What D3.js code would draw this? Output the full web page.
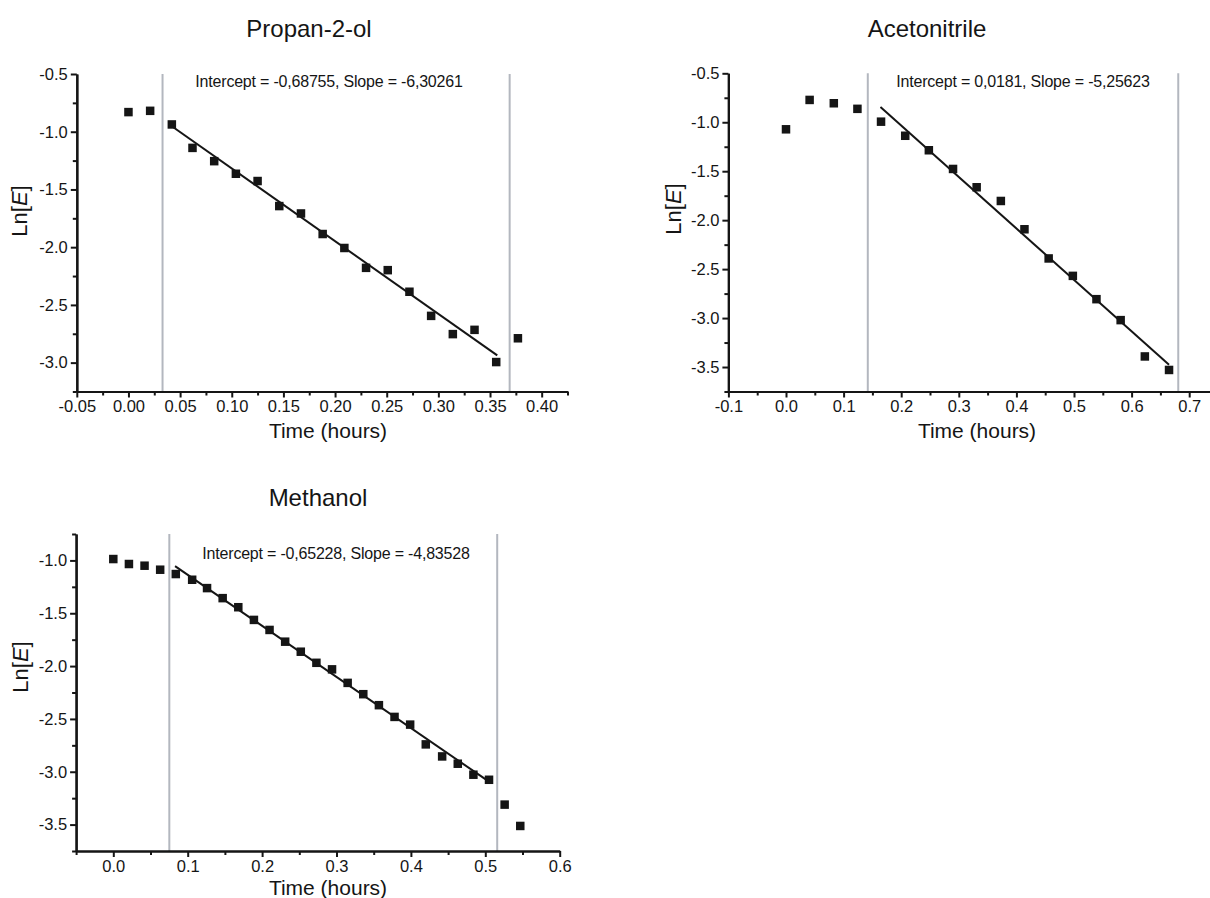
<!DOCTYPE html>
<html>
<head>
<meta charset="utf-8">
<script src="https://cdn.jsdelivr.net/npm/d3@7"></script>
<style>
  html, body { margin: 0; padding: 0; background: #fff; }
  svg { display: block; font-family: "Liberation Sans", Arial, sans-serif; }
</style>
</head>
<body>
<svg id="chart" width="1210" height="898"></svg>
<script>
// ---------- DATA ----------
const titles = ["Propan-2-ol", "Acetonitrile", "Methanol"];

// Propan-2-ol
const timeP = [0, 0.021, 0.042, 0.062, 0.083, 0.104, 0.125, 0.146, 0.167, 0.188, 0.209, 0.230, 0.251, 0.272, 0.293, 0.314, 0.335, 0.356, 0.377];
const lnEP  = [-0.830, -0.819, -0.937, -1.140, -1.255, -1.364, -1.427, -1.644, -1.708, -1.886, -2.007, -2.179, -2.199, -2.386, -2.595, -2.753, -2.716, -2.995, -2.789];

// Acetonitrile
const timeA = [0, 0.041, 0.083, 0.124, 0.165, 0.207, 0.248, 0.290, 0.331, 0.373, 0.414, 0.456, 0.498, 0.539, 0.581, 0.623, 0.665];
const lnEA  = [-1.072, -0.772, -0.806, -0.863, -0.994, -1.138, -1.286, -1.477, -1.664, -1.804, -2.093, -2.391, -2.569, -2.807, -3.021, -3.392, -3.530];

// Methanol
const timeM = [0, 0.021, 0.042, 0.063, 0.084, 0.106, 0.126, 0.147, 0.168, 0.189, 0.210, 0.231, 0.252, 0.273, 0.294, 0.315, 0.336, 0.357, 0.378, 0.399, 0.420, 0.442, 0.463, 0.484, 0.505, 0.526, 0.547];
const lnEM  = [-0.987, -1.034, -1.050, -1.088, -1.129, -1.183, -1.262, -1.357, -1.443, -1.563, -1.658, -1.769, -1.864, -1.969, -2.031, -2.159, -2.266, -2.370, -2.481, -2.554, -2.741, -2.855, -2.924, -3.028, -3.076, -3.311, -3.513];

// Linear fits (as printed on the chart)
const fitIntercept = [-0.68755, 0.0181, -0.65228];
const fitSlope     = [-6.30261, -5.25623, -4.83528];
const fitLabels    = ["Intercept = -0,68755, Slope = -6,30261",
                      "Intercept = 0,0181, Slope = -5,25623",
                      "Intercept = -0,65228, Slope = -4,83528"];
const fitFrom = [0.042, 0.164, 0.083];
const fitTo   = [0.357, 0.665, 0.504];

// Fit window markers (vertical grey lines)
const windowP = [0.033, 0.369];
const windowA = [0.142, 0.681];
const windowM = [0.0753, 0.516];

// Axes
const xDomains = [[-0.05, 0.425], [-0.1, 0.75], [-0.05, 0.6]];
const yDomains = [[-3.25, -0.5], [-3.75, -0.5], [-3.75, -0.75]];
const xMajorTicks = [
  [-0.05, 0.00, 0.05, 0.10, 0.15, 0.20, 0.25, 0.30, 0.35, 0.40],
  [-0.1, 0.0, 0.1, 0.2, 0.3, 0.4, 0.5, 0.6, 0.7],
  [0.0, 0.1, 0.2, 0.3, 0.4, 0.5, 0.6]
];
const xMinorTicks = [
  [-0.025, 0.025, 0.075, 0.125, 0.175, 0.225, 0.275, 0.325, 0.375, 0.425],
  [-0.05, 0.05, 0.15, 0.25, 0.35, 0.45, 0.55, 0.65, 0.75],
  [-0.05, 0.05, 0.15, 0.25, 0.35, 0.45, 0.55]
];
const yMajorTicks = [
  [-0.5, -1.0, -1.5, -2.0, -2.5, -3.0],
  [-0.5, -1.0, -1.5, -2.0, -2.5, -3.0, -3.5],
  [-1.0, -1.5, -2.0, -2.5, -3.0, -3.5]
];
const yMinorTicks = [
  [-0.75, -1.25, -1.75, -2.25, -2.75, -3.25],
  [-0.75, -1.25, -1.75, -2.25, -2.75, -3.25, -3.75],
  [-0.75, -1.25, -1.75, -2.25, -2.75, -3.25, -3.75]
];
const xTickDecimals = [2, 1, 1];
const xAxisTitle = "Time (hours)";

// ---------- LAYOUT (pixels) ----------
const layout = [
  { x0: 76.8, x1: 567.5, y0: 391.5, y1: 74,   title: [309, 37],  fit: [329, 87],  xl: [328, 438], yl: [19, 211] },
  { x0: 728.4, x1: 1218, y0: 391.5, y1: 73.3, title: [927, 37],  fit: [1023, 87], xl: [977, 438], yl: [673, 209] },
  { x0: 76.1, x1: 559.7, y0: 851,   y1: 534,  title: [318, 506], fit: [336, 559], xl: [328, 895], yl: [20, 667] }
];

const series = [
  { t: timeP, v: lnEP, w: windowP },
  { t: timeA, v: lnEA, w: windowA },
  { t: timeM, v: lnEM, w: windowM }
];

const svg = d3.select("#chart");
const ink = "#151515";
const fmt = dec => d => d3.format("." + dec + "f")(d).replace("\u2212", "-");

series.forEach((s, i) => {
  const L = layout[i];
  const x = d3.scaleLinear().domain(xDomains[i]).range([L.x0, L.x1]);
  const y = d3.scaleLinear().domain(yDomains[i]).range([L.y0, L.y1]);
  const g = svg.append("g");

  // window lines
  g.selectAll("line.win").data(s.w).enter().append("line")
    .attr("x1", d => x(d)).attr("x2", d => x(d))
    .attr("y1", L.y1).attr("y2", L.y0)
    .attr("stroke", "#b3b7bf").attr("stroke-width", 2);

  // minor ticks
  const minorX = d3.axisBottom(x).tickValues(xMinorTicks[i]).tickSize(4).tickSizeOuter(0).tickFormat("");
  const minorY = d3.axisLeft(y).tickValues(yMinorTicks[i]).tickSize(4).tickSizeOuter(0).tickFormat("");
  g.append("g").attr("transform", `translate(0,${L.y0})`).call(minorX);
  g.append("g").attr("transform", `translate(${L.x0},0)`).call(minorY);

  // major axes
  const ax = d3.axisBottom(x).tickValues(xMajorTicks[i]).tickSize(6).tickSizeOuter(0).tickPadding(3).tickFormat(fmt(xTickDecimals[i]));
  const ay = d3.axisLeft(y).tickValues(yMajorTicks[i]).tickSize(6).tickSizeOuter(0).tickPadding(3).tickFormat(fmt(1));
  g.append("g").attr("class", "xa").attr("transform", `translate(0,${L.y0})`).call(ax);
  g.append("g").attr("class", "ya").attr("transform", `translate(${L.x0},0)`).call(ay);

  g.selectAll(".domain").attr("stroke", ink).attr("stroke-width", 2.2);
  g.selectAll(".tick line").attr("stroke", ink).attr("stroke-width", 2);
  g.selectAll(".tick text").attr("fill", ink).attr("font-size", 16.5)
    .attr("font-family", "'Liberation Sans', Arial, sans-serif");

  // fit line
  const fitPts = [fitFrom[i], fitTo[i]].map(t => [t, fitIntercept[i] + fitSlope[i] * t]);
  g.append("path").datum(fitPts)
    .attr("d", d3.line().x(d => x(d[0])).y(d => y(d[1])))
    .attr("stroke", ink).attr("stroke-width", 2).attr("fill", "none");

  // markers
  const ms = 8.5;
  g.selectAll("rect.pt").data(s.t.map((t, k) => [t, s.v[k]])).enter().append("rect")
    .attr("x", d => x(d[0]) - ms / 2).attr("y", d => y(d[1]) - ms / 2)
    .attr("width", ms).attr("height", ms).attr("fill", ink);

  // texts
  g.append("text").attr("x", L.title[0]).attr("y", L.title[1])
    .attr("text-anchor", "middle").attr("font-size", 24).attr("fill", ink).text(titles[i]);
  g.append("text").attr("x", L.fit[0]).attr("y", L.fit[1])
    .attr("text-anchor", "middle").attr("font-size", 16).attr("fill", ink)
    .attr("letter-spacing", -0.2).text(fitLabels[i]);
  g.append("text").attr("x", L.xl[0]).attr("y", L.xl[1])
    .attr("text-anchor", "middle").attr("font-size", 21).attr("fill", ink).text(xAxisTitle);
  const yl = g.append("text")
    .attr("transform", `translate(${L.yl[0] + 8},${L.yl[1]}) rotate(-90)`)
    .attr("text-anchor", "middle").attr("font-size", 22).attr("fill", ink);
  yl.append("tspan").text("Ln[");
  yl.append("tspan").attr("font-style", "italic").text("E");
  yl.append("tspan").text("]");
});
</script>
</body>
</html>
